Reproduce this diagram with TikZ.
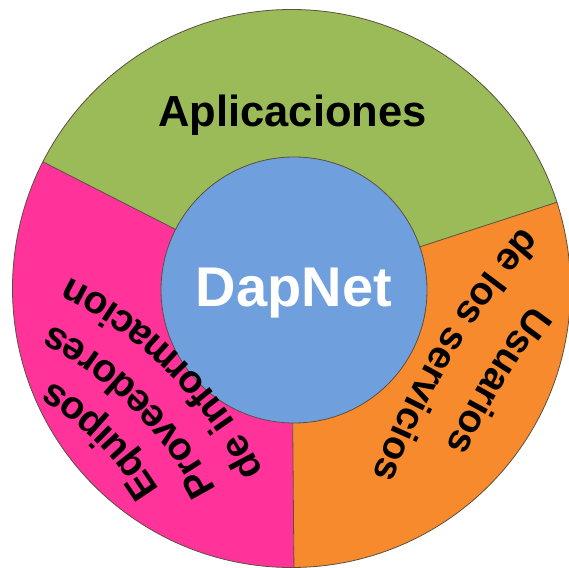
\documentclass[tikz,border=0pt]{standalone}
\usepackage{fontspec}
\setmainfont{Liberation Sans}
\usetikzlibrary{decorations.text}

\definecolor{appgreen}{HTML}{9BBB59}
\definecolor{userorange}{HTML}{F68A2C}
\definecolor{providerpink}{HTML}{FF3399}
\definecolor{coreblue}{HTML}{6F9FDD}
\definecolor{rimline}{HTML}{5A5040}

\newcommand{\ringfont}{\fontsize{39}{39}\selectfont\bfseries}

\tikzset{
  sector/.style={draw=rimline, line width=0.8pt},
  ringtext/.style={decorate, decoration={text along path, text={|\ringfont|#1}, text align=center}}
}

\begin{document}
\begin{tikzpicture}[x=1pt, y=1pt]
  \useasboundingbox (0,0) rectangle (569,567);
  \clip (0,0) rectangle (569,567);
  % Centres
  \coordinate (O) at (291.5,278.5);
  \coordinate (I) at (294,277);
  \coordinate (Cp) at (-120,-94);
  \coordinate (Co) at (1130.8,-194.3);
  % Outer ring sectors
  \fill[appgreen] (O) -- ++(18:279) arc[start angle=18, end angle=153, radius=279] -- cycle;
  \fill[providerpink] (O) -- ++(153:279) arc[start angle=153, end angle=270.5, radius=279] -- cycle;
  \fill[userorange] (O) -- ++(270.5:279) arc[start angle=270.5, end angle=378, radius=279] -- cycle;
  \draw[sector] (O) circle[radius=279];
  \foreach \a in {18, 153, 270.5} {
    \draw[sector] (O) -- ++(\a:279);
  }
  % Core
  \draw[sector, fill=coreblue] (I) circle[radius=133];
  \node[text=white, font=\fontsize{56}{56}\selectfont\bfseries, anchor=base] (dapnet) at (294,260.3) {DapNet};
  \node[font=\fontsize{43.5}{43.5}\selectfont\bfseries, anchor=base] (apps) at (292.5,440) {Aplicaciones};
  % Curved labels
  \path[ringtext=Equipos] (Cp) ++(0:328) arc[start angle=0, end angle=90, radius=328];
  \path[ringtext=Proveedores] (Cp) ++(0:377) arc[start angle=0, end angle=90, radius=377];
  \path[ringtext=de informacion] (Cp) ++(0:428) arc[start angle=0, end angle=90, radius=428];
  \path[ringtext=Usuarios] (Co) ++(109:753) arc[start angle=109, end angle=189, radius=753];
  \path[ringtext=de los servicios] (Co) ++(109:810) arc[start angle=109, end angle=189, radius=810];
\end{tikzpicture}
\end{document}
